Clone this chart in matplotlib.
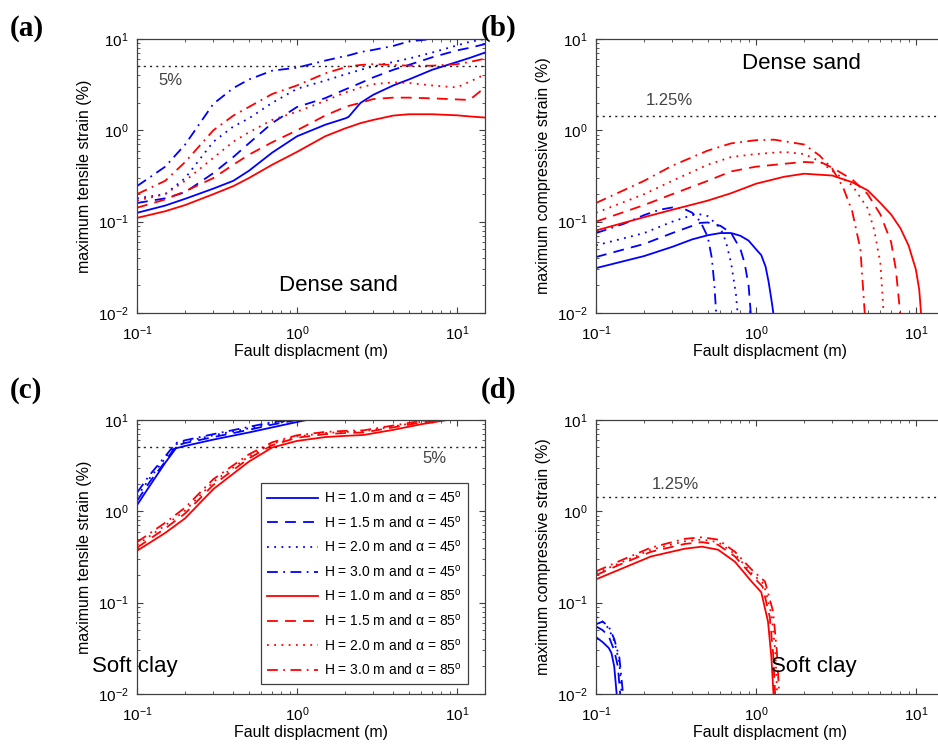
import matplotlib
matplotlib.use('Agg')
import matplotlib.pyplot as plt
from matplotlib.ticker import LogLocator, NullFormatter

plt.rcParams['font.family'] = ['Liberation Sans', 'DejaVu Sans']
plt.rcParams['mathtext.fontset'] = 'custom'
plt.rcParams['mathtext.rm'] = 'Liberation Sans'
plt.rcParams['mathtext.it'] = 'Liberation Sans:italic'

labels = [
    'H = 1.0 m and α = 45$^{\\mathrm{o}}$',
    'H = 1.5 m and α = 45$^{\\mathrm{o}}$',
    'H = 2.0 m and α = 45$^{\\mathrm{o}}$',
    'H = 3.0 m and α = 45$^{\\mathrm{o}}$',
    'H = 1.0 m and α = 85$^{\\mathrm{o}}$',
    'H = 1.5 m and α = 85$^{\\mathrm{o}}$',
    'H = 2.0 m and α = 85$^{\\mathrm{o}}$',
    'H = 3.0 m and α = 85$^{\\mathrm{o}}$',
]

# (a) dense sand, tensile
xa = [0.1, 0.15, 0.2, 0.3, 0.4, 0.5, 0.7, 1.0, 1.5, 2.0, 2.1, 2.5, 3.0, 4.0, 5.0, 7.0, 10.0, 12.0, 15.0]
a_b10 = [0.125, 0.15, 0.178, 0.23, 0.28, 0.36, 0.57, 0.86, 1.15, 1.35, 1.4, 2.0, 2.45, 3.1, 3.6, 4.6, 5.6, 6.2, 7.1]
a_b15 = [0.16, 0.18, 0.21, 0.34, 0.51, 0.72, 1.2, 1.8, 2.25, 2.8, 2.9, 3.3, 3.8, 4.6, 5.2, 6.3, 7.5, 8.0, 8.8]
a_b20 = [0.18, 0.2, 0.3, 0.75, 1.1, 1.35, 2.0, 2.85, 3.5, 4.1, 4.2, 4.6, 5.0, 5.6, 6.1, 7.1, 8.5, 9.3, 10.0]
a_b30 = [0.245, 0.4, 0.7, 1.95, 2.9, 3.6, 4.5, 4.85, 5.8, 6.5, 6.6, 7.2, 7.6, 8.4, 9.4, 10.0, 10.0, 10.0, 10.0]
a_r10 = [0.11, 0.13, 0.152, 0.2, 0.245, 0.3, 0.42, 0.58, 0.86, 1.05, 1.08, 1.2, 1.3, 1.45, 1.5, 1.5, 1.46, 1.42, 1.38]
a_r15 = [0.142, 0.175, 0.215, 0.3, 0.42, 0.54, 0.74, 1.0, 1.45, 1.8, 1.85, 2.0, 2.2, 2.28, 2.28, 2.24, 2.18, 2.15, 2.95]
a_r20 = [0.17, 0.2, 0.28, 0.5, 0.75, 0.95, 1.3, 1.6, 2.1, 2.6, 2.65, 2.95, 3.2, 3.35, 3.3, 3.1, 2.95, 3.4, 4.1]
a_r30 = [0.2, 0.28, 0.45, 1.0, 1.45, 1.8, 2.5, 3.1, 4.2, 4.9, 5.0, 5.2, 5.3, 5.2, 5.1, 5.1, 5.3, 5.6, 6.1]

# (b) dense sand, compressive
bx_b10 = [0.1, 0.2, 0.3, 0.4, 0.5, 0.6, 0.7, 0.8, 0.9, 1.0, 1.08, 1.15, 1.2, 1.25, 1.29]
b_b10 = [0.031, 0.042, 0.053, 0.064, 0.071, 0.075, 0.075, 0.07, 0.062, 0.05, 0.043, 0.032, 0.022, 0.014, 0.0095]
bx_b15 = [0.1, 0.2, 0.3, 0.4, 0.45, 0.5, 0.6, 0.7, 0.8, 0.85, 0.9, 0.93]
b_b15 = [0.041, 0.057, 0.075, 0.09, 0.097, 0.098, 0.09, 0.075, 0.05, 0.035, 0.02, 0.0095]
bx_b20 = [0.1, 0.2, 0.3, 0.4, 0.45, 0.5, 0.6, 0.65, 0.7, 0.75, 0.77]
b_b20 = [0.055, 0.075, 0.1, 0.118, 0.12, 0.115, 0.085, 0.06, 0.035, 0.016, 0.0095]
bx_b30 = [0.1, 0.15, 0.2, 0.25, 0.3, 0.35, 0.4, 0.45, 0.5, 0.53, 0.55, 0.565]
b_b30 = [0.075, 0.095, 0.118, 0.135, 0.143, 0.14, 0.125, 0.1, 0.068, 0.04, 0.02, 0.0095]
bx_r10 = [0.1, 0.2, 0.3, 0.5, 0.7, 1.0, 1.5, 2.0, 3.0, 4.0, 5.0, 6.0, 7.0, 8.0, 9.0, 10.0, 10.5, 10.8]
b_r10 = [0.08, 0.112, 0.135, 0.17, 0.205, 0.26, 0.31, 0.335, 0.32, 0.27, 0.22, 0.16, 0.12, 0.085, 0.055, 0.03, 0.018, 0.0095]
bx_r15 = [0.1, 0.2, 0.3, 0.5, 0.7, 1.0, 1.5, 2.0, 2.6, 3.0, 4.0, 5.0, 6.0, 7.0, 7.5, 8.0]
b_r15 = [0.1, 0.152, 0.2, 0.28, 0.355, 0.4, 0.43, 0.45, 0.44, 0.39, 0.29, 0.2, 0.12, 0.06, 0.03, 0.0095]
bx_r20 = [0.1, 0.2, 0.3, 0.5, 0.7, 1.0, 1.5, 2.0, 2.5, 3.0, 4.0, 5.0, 5.5, 6.0, 6.3]
b_r20 = [0.125, 0.2, 0.28, 0.42, 0.51, 0.55, 0.58, 0.55, 0.46, 0.36, 0.25, 0.14, 0.08, 0.035, 0.0095]
bx_r30 = [0.1, 0.2, 0.3, 0.5, 0.7, 1.0, 1.3, 2.0, 2.5, 3.0, 3.5, 4.0, 4.5, 4.8]
b_r30 = [0.16, 0.28, 0.41, 0.6, 0.72, 0.78, 0.79, 0.7, 0.53, 0.38, 0.24, 0.13, 0.05, 0.0095]

# (c) soft clay, tensile
cx_b = [0.1, 0.12, 0.15, 0.175, 0.2, 0.3, 0.5, 0.7, 1.0, 1.15]
c_b10 = [1.17, 1.9, 3.4, 4.9, 5.2, 6.1, 7.3, 8.3, 9.5, 10.0]
c_b15 = [1.3, 2.1, 3.5, 5.2, 5.6, 6.5, 7.8, 8.9, 10.0, 10.0]
c_b20 = [1.45, 2.3, 3.8, 5.4, 5.8, 6.8, 8.1, 9.2, 10.0, 10.0]
c_b30 = [1.6, 2.5, 4.0, 5.6, 6.0, 7.0, 8.4, 9.5, 10.0, 10.0]
cx_r = [0.1, 0.15, 0.2, 0.3, 0.5, 0.7, 1.0, 1.5, 2.0, 2.6, 4.0, 6.0, 8.7]
c_r10 = [0.37, 0.58, 0.84, 1.75, 3.5, 5.0, 5.9, 6.5, 6.7, 6.85, 7.8, 9.0, 10.0]
c_r15 = [0.4, 0.65, 0.95, 1.95, 3.8, 5.3, 6.4, 7.0, 7.2, 7.3, 8.3, 9.4, 10.0]
c_r20 = [0.43, 0.7, 1.02, 2.1, 4.0, 5.5, 6.6, 7.2, 7.4, 7.5, 8.5, 9.6, 10.0]
c_r30 = [0.46, 0.75, 1.1, 2.25, 4.2, 5.7, 6.8, 7.4, 7.6, 7.7, 8.7, 9.8, 10.0]

# (d) soft clay, compressive
dx_b10 = [0.1, 0.11, 0.12, 0.125, 0.13, 0.135]
d_b10 = [0.042, 0.037, 0.032, 0.028, 0.02, 0.0095]
dx_b15 = [0.1, 0.11, 0.12, 0.13, 0.137, 0.142]
d_b15 = [0.055, 0.05, 0.043, 0.03, 0.02, 0.0095]
dx_b20 = [0.1, 0.11, 0.12, 0.13, 0.14, 0.145]
d_b20 = [0.07, 0.062, 0.052, 0.038, 0.022, 0.0095]
dx_b30 = [0.1, 0.11, 0.12, 0.13, 0.14, 0.148]
d_b30 = [0.058, 0.062, 0.055, 0.04, 0.025, 0.0095]
dx_r10 = [0.1, 0.14, 0.22, 0.36, 0.46, 0.58, 0.74, 0.94, 1.08, 1.19, 1.25, 1.29]
d_r10 = [0.18, 0.23, 0.32, 0.39, 0.41, 0.38, 0.28, 0.17, 0.13, 0.062, 0.025, 0.0095]
dx_r15 = [0.1, 0.14, 0.22, 0.36, 0.46, 0.58, 0.74, 0.94, 1.1, 1.22, 1.28, 1.32]
d_r15 = [0.2, 0.26, 0.36, 0.44, 0.46, 0.43, 0.32, 0.2, 0.15, 0.07, 0.028, 0.0095]
dx_r20 = [0.1, 0.14, 0.22, 0.36, 0.46, 0.58, 0.74, 0.94, 1.12, 1.25, 1.32, 1.36]
d_r20 = [0.21, 0.27, 0.38, 0.47, 0.49, 0.46, 0.34, 0.21, 0.16, 0.075, 0.03, 0.0095]
dx_r30 = [0.1, 0.14, 0.22, 0.36, 0.46, 0.58, 0.74, 0.94, 1.14, 1.28, 1.35, 1.4]
d_r30 = [0.22, 0.285, 0.4, 0.5, 0.52, 0.49, 0.36, 0.23, 0.17, 0.08, 0.03, 0.0095]

tensile_limit = 5.0
compressive_limit = 1.43

colors = ['blue'] * 4 + ['red'] * 4
styles = ['-', (0, (6, 4)), (0, (1, 3)), (0, (6, 3, 1, 3))] * 2

fig = plt.figure(figsize=(9.38, 7.5), dpi=100)
w, h = 0.371, 0.3653
ax_a = fig.add_axes([0.1461, 0.5827, w, h])
ax_b = fig.add_axes([0.6354, 0.5827, w, h])
ax_c = fig.add_axes([0.1461, 0.0747, w, h])
ax_d = fig.add_axes([0.6354, 0.0747, w, h])

panels = [
    (ax_a, [(xa, a_b10), (xa, a_b15), (xa, a_b20), (xa, a_b30),
            (xa, a_r10), (xa, a_r15), (xa, a_r20), (xa, a_r30)]),
    (ax_b, [(bx_b10, b_b10), (bx_b15, b_b15), (bx_b20, b_b20), (bx_b30, b_b30),
            (bx_r10, b_r10), (bx_r15, b_r15), (bx_r20, b_r20), (bx_r30, b_r30)]),
    (ax_c, [(cx_b, c_b10), (cx_b, c_b15), (cx_b, c_b20), (cx_b, c_b30),
            (cx_r, c_r10), (cx_r, c_r15), (cx_r, c_r20), (cx_r, c_r30)]),
    (ax_d, [(dx_b10, d_b10), (dx_b15, d_b15), (dx_b20, d_b20), (dx_b30, d_b30),
            (dx_r10, d_r10), (dx_r15, d_r15), (dx_r20, d_r20), (dx_r30, d_r30)]),
]

edge = '#404040'
for ax, series in panels:
    for (x, y), c, ls, lab in zip(series, colors, styles, labels):
        ax.plot(x, y, color=c, linestyle=ls, linewidth=1.3, label=lab)
    ax.set_xscale('log')
    ax.set_yscale('log')
    ax.set_xlim(0.1, 15)
    ax.set_ylim(0.01, 10)
    ax.xaxis.set_minor_locator(LogLocator(base=10, subs=range(2, 10), numticks=20))
    ax.yaxis.set_minor_locator(LogLocator(base=10, subs=range(2, 10), numticks=20))
    ax.xaxis.set_minor_formatter(NullFormatter())
    ax.yaxis.set_minor_formatter(NullFormatter())
    ax.tick_params(which='both', direction='in', top=True, right=True, color=edge, labelsize=11)
    ax.tick_params(which='major', length=4, width=0.8)
    ax.tick_params(which='minor', length=2, width=0.6)
    ax.tick_params(axis='x', which='major', pad=8)
    ax.tick_params(axis='y', which='major', pad=6)
    for sp in ax.spines.values():
        sp.set_color(edge)
        sp.set_linewidth(0.9)
    ax.set_xlabel('Fault displacment (m)', fontsize=11.5)
    ax.xaxis.set_label_coords(0.5, -0.115)
    ax.yaxis.set_label_coords(-0.13, 0.5)

for ax in (ax_a, ax_c):
    ax.axhline(tensile_limit, color='#222222', linestyle=(0, (1.5, 3)), linewidth=1.0)
    ax.set_ylabel('maximum tensile strain (%)', fontsize=11.5)
for ax in (ax_b, ax_d):
    ax.axhline(compressive_limit, color='#222222', linestyle=(0, (1.5, 3)), linewidth=1.0)
    ax.set_ylabel('maximum compressive strain (%)', fontsize=11.5)

gray = '#444444'
ax_a.text(0.095, 0.85, '5%', transform=ax_a.transAxes, ha='center', va='center', fontsize=12, color=gray)
ax_c.text(0.855, 0.858, '5%', transform=ax_c.transAxes, ha='center', va='center', fontsize=12, color=gray)
ax_b.text(0.21, 0.777, '1.25%', transform=ax_b.transAxes, ha='center', va='center', fontsize=12, color=gray)
ax_d.text(0.227, 0.766, '1.25%', transform=ax_d.transAxes, ha='center', va='center', fontsize=12, color=gray)

ax_a.text(0.579, 0.102, 'Dense sand', transform=ax_a.transAxes, ha='center', va='center', fontsize=16)
ax_b.text(0.589, 0.909, 'Dense sand', transform=ax_b.transAxes, ha='center', va='center', fontsize=16)
ax_c.text(-0.007, 0.0985, 'Soft clay', transform=ax_c.transAxes, ha='center', va='center', fontsize=16, clip_on=False)
ax_d.text(0.625, 0.0985, 'Soft clay', transform=ax_d.transAxes, ha='center', va='center', fontsize=16)

leg = ax_c.legend(loc='lower right', bbox_to_anchor=(0.951, 0.036), fontsize=10,
                  handlelength=3.7, handletextpad=0.4, labelspacing=0.62,
                  borderpad=0.45, borderaxespad=0, fancybox=False, framealpha=1,
                  edgecolor=edge)
leg.get_frame().set_linewidth(0.9)

for lab, (px, py) in zip(['(a)', '(b)', '(c)', '(d)'],
                         [(10, 28), (481, 28), (10, 390), (481, 390)]):
    fig.text(px / 938, 1 - py / 750, lab, ha='left', va='center', fontsize=21,
             fontweight='bold', family='Liberation Serif')

fig.savefig('out.png', dpi=100)
